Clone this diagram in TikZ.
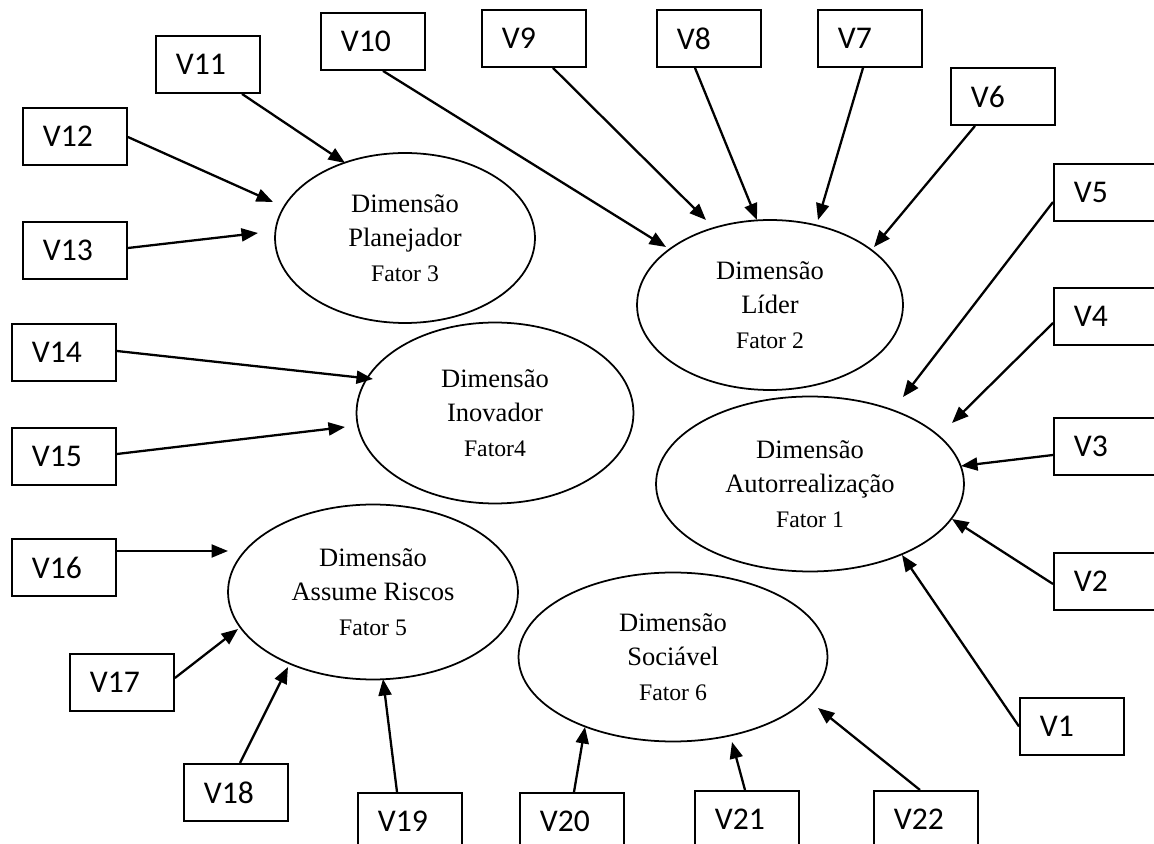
\documentclass[tikz,border=0pt]{standalone}
\usepackage{fontspec}
\setmainfont{Liberation Serif}
\newfontfamily\boxfont{Carlito}
\usetikzlibrary{arrows.meta,calc,shapes.geometric}
\tikzset{
  vbox/.style={draw, line width=1.1pt, anchor=north west, minimum width=2.08cm, minimum height=1.14cm,
    inner xsep=0.4cm, inner ysep=0pt, text width=1.28cm, align=left,
    font=\fontsize{18}{21}\boxfont},
  lat/.style={draw, ellipse, line width=1pt, inner sep=0pt, align=center,
    font=\fontsize{15.1}{19.8}\selectfont},
  arr/.style={line width=1.3pt, -{Triangle[length=0.33cm,width=0.26cm]}}
}
\newcommand{\fatorline}[1]{{\fontsize{13.5}{19.8}\selectfont #1}}
\begin{document}
\begin{tikzpicture}[x=0.02cm, y=-0.02cm]
\useasboundingbox (0,0) rectangle (1154,844);
\clip (0,0) rectangle (1154,844);

% latent dimensions
\node[lat, minimum width=5.2cm, minimum height=3.4cm] (plan) at (405,238) {Dimensão\\Planejador\\\fatorline{Fator 3}};
\node[lat, minimum width=5.32cm, minimum height=3.4cm] (lider) at (770,305) {Dimensão\\Líder\\\fatorline{Fator 2}};
\node[lat, minimum width=5.54cm, minimum height=3.62cm] (inov) at (495,413) {Dimensão\\Inovador\\\fatorline{Fator4}};
\node[lat, minimum width=6.16cm, minimum height=3.5cm] (auto) at (810,484) {Dimensão\\Autorrealização\\\fatorline{Fator 1}};
\node[lat, minimum width=5.8cm, minimum height=3.5cm] (risc) at (373,592) {Dimensão\\Assume Riscos\\\fatorline{Fator 5}};
\node[lat, minimum width=6.18cm, minimum height=3.38cm] (soc) at (673,657) {Dimensão\\Sociável\\\fatorline{Fator 6}};

% observed variables
\node[vbox] (v1) at (1019,697) {V1};
\node[vbox] (v2) at (1053,552) {V2};
\node[vbox] (v3) at (1053,417) {V3};
\node[vbox] (v4) at (1053,287) {V4};
\node[vbox] (v5) at (1053,163) {V5};
\node[vbox] (v6) at (950,67) {V6};
\node[vbox] (v7) at (817,9) {V7};
\node[vbox] (v8) at (656,9) {V8};
\node[vbox] (v9) at (481,9) {V9};
\node[vbox] (v10) at (320,12) {V10};
\node[vbox] (v11) at (155,35) {V11};
\node[vbox] (v12) at (22,107) {V12};
\node[vbox] (v13) at (22,221) {V13};
\node[vbox] (v14) at (11,323) {V14};
\node[vbox] (v15) at (11,427) {V15};
\node[vbox] (v16) at (11,538) {V16};
\node[vbox] (v17) at (69,653) {V17};
\node[vbox] (v18) at (183,763) {V18};
\node[vbox] (v19) at (357,792) {V19};
\node[vbox] (v20) at (519,792) {V20};
\node[vbox] (v21) at (694,790) {V21};
\node[vbox] (v22) at (873,790) {V22};

% connectors
\draw[arr] (v1.west) -- ($(auto.center)+(92,71)$);
\draw[arr] ($(v2.north west)+(0,32)$) -- ($(auto.center)+(142,35)$);
\draw[arr] ($(v3.north west)+(0,38)$) -- ($(auto.center)+(151,-18)$);
\draw[arr] ($(v4.north west)+(0,36)$) -- ($(auto.center)+(142,-61)$);
\draw[arr] ($(v5.north west)+(0,39)$) -- ($(auto.center)+(93,-87)$);
\draw[arr] ($(v6.south west)+(25,0)$) -- ($(lider.center)+(104,-58)$);
\draw[arr] ($(v7.south west)+(46,0)$) -- ($(lider.center)+(48,-85)$);
\draw[arr] ($(v8.south west)+(39,0)$) -- ($(lider.center)+(-13,-85)$);
\draw[arr] ($(v9.south west)+(72,0)$) -- ($(lider.center)+(-64,-85)$);
\draw[arr] ($(v10.south west)+(63,0)$) -- ($(lider.center)+(-104,-58)$);
\draw[arr] ($(v11.south west)+(87,0)$) -- ($(plan.center)+(-60,-75)$);
\draw[arr] ($(v12.north east)+(0,30)$) -- ($(plan.center)+(-132,-36)$);
\draw[arr] ($(v13.north east)+(0,27)$) -- ($(plan.center)+(-147,-5)$);
\draw[arr] ($(v14.north east)+(0,28)$) -- ($(inov.center)+(-122,-34)$);
\draw[arr] ($(v15.north east)+(0,27)$) -- ($(inov.center)+(-150,14)$);
\draw[arr] ($(v16.north east)+(0,13)$) -- ($(risc.center)+(-145,-41)$);
\draw[arr] ($(v17.north east)+(0,25)$) -- ($(risc.center)+(-135,37)$);
\draw[arr] ($(v18.north west)+(57,0)$) -- ($(risc.center)+(-85,75)$);
\draw[arr] ($(v19.north west)+(40,0)$) -- ($(risc.center)+(10,87)$);
\draw[arr] ($(v20.north west)+(55,0)$) -- ($(soc.center)+(-88,70)$);
\draw[arr] ($(v21.north west)+(51,0)$) -- ($(soc.center)+(59,85)$);
\draw[arr] ($(v22.north west)+(47,0)$) -- ($(soc.center)+(145,51)$);
\end{tikzpicture}
\end{document}
